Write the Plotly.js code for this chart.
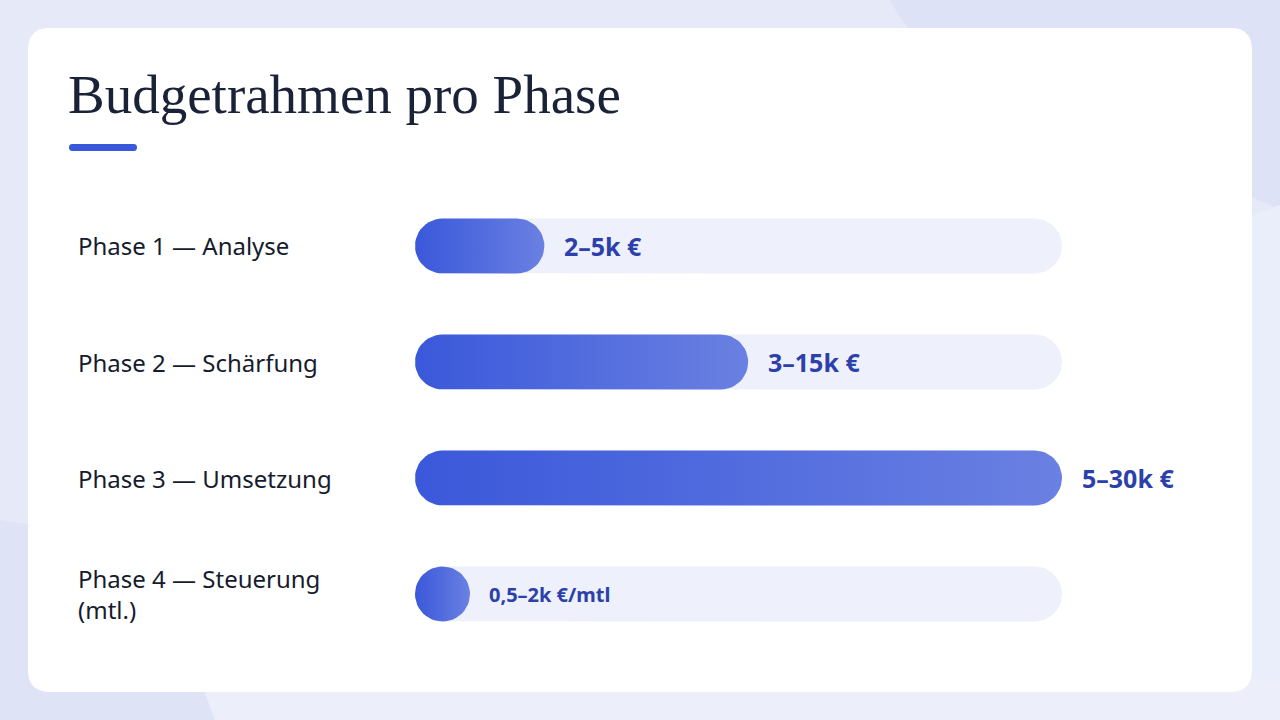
<!DOCTYPE html>
<html>
<head>
<meta charset="utf-8">
<script src="https://cdn.plot.ly/plotly-3.0.1.min.js"></script>
<style>html,body{margin:0;padding:0;background:#e6e9f8;}#chart{width:1280px;height:720px;}</style>
</head>
<body>
<div id="chart"></div>
<script>
// ---- data ----
const phases = ["Phase 1 — Analyse", "Phase 2 — Schärfung", "Phase 3 — Umsetzung", "Phase 4 — Steuerung<br>(mtl.)"];
const barShare = [20, 51.5, 100, 8.5];          // bar length in % of the track
const valueLabels = ["2–5k €", "3–15k €", "5–30k €", "0,5–2k €/mtl"];
const trackMax = 100;

// ---- geometry helpers (plot frame) ----
const W = 1280, H = 720;
const xPx0 = 415, xPx1 = 1062;            // track start/end in px
const rowPx0 = 246, rowStep = 116;        // row centre px
const barHpx = 55;
const xDomain = [xPx0 / W, xPx1 / W];
const yTopPx = rowPx0 - rowStep / 2, yBotPx = rowPx0 + rowStep * 3.5;
const yDomain = [1 - yBotPx / H, 1 - yTopPx / H];
const pxPerX = (xPx1 - xPx0) / trackMax;
const pxPerY = rowStep;
const hY = (barHpx / 2) / pxPerY;
const rX = (barHpx / 2) / pxPerX;

function pill(x0, x1, yc) {
  const xs = [], ys = [];
  const n = 24;
  const r = Math.min(rX, (x1 - x0) / 2);
  const cl = x0 + r, cr = x1 - r;
  for (let i = 0; i <= n; i++) {
    const a = -Math.PI / 2 + Math.PI * i / n;
    xs.push(cr + r * Math.cos(a)); ys.push(yc + hY * Math.sin(a));
  }
  for (let i = 0; i <= n; i++) {
    const a = Math.PI / 2 + Math.PI * i / n;
    xs.push(cl + r * Math.cos(a)); ys.push(yc + hY * Math.sin(a));
  }
  xs.push(xs[0]); ys.push(ys[0]);
  return {xs, ys};
}

const traces = [];
phases.forEach((p, i) => {
  const t = pill(0, trackMax, i);
  traces.push({type: 'scatter', mode: 'lines', x: t.xs, y: t.ys, fill: 'toself',
    fillcolor: '#eef0fb', line: {width: 0, color: 'rgba(0,0,0,0)'}, hoverinfo: 'skip', showlegend: false});
});
phases.forEach((p, i) => {
  const b = pill(0, barShare[i], i);
  traces.push({type: 'scatter', mode: 'lines', x: b.xs, y: b.ys, fill: 'toself',
    fillgradient: {type: 'horizontal', colorscale: [[0, '#3a58da'], [1, '#6a80e2']]},
    fillcolor: '#4a66dc',
    line: {width: 0, color: 'rgba(0,0,0,0)'}, hoverinfo: 'skip', showlegend: false, name: p});
});

const sans = '"Noto Sans", Lato, sans-serif';
const annotations = [];
phases.forEach((p, i) => {
  annotations.push({xref: 'paper', yref: 'y', x: 76 / W, y: i, xanchor: 'left', yanchor: 'middle',
    text: p, showarrow: false, align: 'left',
    font: {family: sans, size: 24, color: '#161b2e'}});
  const small = i === 3;
  annotations.push({xref: 'x', yref: 'y', x: barShare[i], y: i, xanchor: 'left', yanchor: 'middle',
    xshift: small ? 17 : 18, text: '<b>' + valueLabels[i] + '</b>', showarrow: false,
    font: {family: sans, size: small ? 20 : 25, color: '#2b40aa'}});
});
annotations.push({xref: 'paper', yref: 'paper', x: 66 / W, y: 1 - 95 / H, xanchor: 'left', yanchor: 'middle',
  text: 'Budgetrahmen pro Phase', showarrow: false,
  font: {family: '"Liberation Serif", "DejaVu Serif", serif', size: 55, color: '#1a2238'}});

function rr(x0, y0, x1, y1, r) {
  const X = v => (v / W).toFixed(5), Y = v => (1 - v / H).toFixed(5);
  return `M${X(x0 + r)},${Y(y0)} L${X(x1 - r)},${Y(y0)} Q${X(x1)},${Y(y0)} ${X(x1)},${Y(y0 + r)} ` +
    `L${X(x1)},${Y(y1 - r)} Q${X(x1)},${Y(y1)} ${X(x1 - r)},${Y(y1)} L${X(x0 + r)},${Y(y1)} ` +
    `Q${X(x0)},${Y(y1)} ${X(x0)},${Y(y1 - r)} L${X(x0)},${Y(y0 + r)} Q${X(x0)},${Y(y0)} ${X(x0 + r)},${Y(y0)} Z`;
}
const P = (x, y) => `${(x / W).toFixed(5)},${(1 - y / H).toFixed(5)}`;

const shapes = [
  {type: 'path', xref: 'paper', yref: 'paper', layer: 'below', line: {width: 0},
   fillcolor: '#dde2f6', path: `M${P(890, 0)} Q${P(920, 60)} ${P(1000, 80)} L${P(1280, 210)} L${P(1280, 0)} Z`},
  {type: 'path', xref: 'paper', yref: 'paper', layer: 'below', line: {width: 0},
   fillcolor: '#eaedfa', path: `M${P(1240, 220)} L${P(1280, 205)} L${P(1280, 720)} L${P(1240, 720)} Z`},
  {type: 'path', xref: 'paper', yref: 'paper', layer: 'below', line: {width: 0},
   fillcolor: '#dfe3f6', path: `M${P(0, 520)} Q${P(150, 540)} ${P(180, 620)} L${P(215, 720)} L${P(0, 720)} Z`},
  {type: 'path', xref: 'paper', yref: 'paper', layer: 'below', line: {width: 0},
   fillcolor: '#eceefa', path: `M${P(215, 720)} L${P(200, 680)} L${P(1280, 680)} L${P(1280, 720)} Z`},
  {type: 'path', xref: 'paper', yref: 'paper', layer: 'below', line: {width: 0},
   fillcolor: '#ffffff', path: rr(28, 28, 1252, 692, 22)},
  {type: 'path', xref: 'paper', yref: 'paper', layer: 'above', line: {width: 0},
   fillcolor: '#3a58da', path: rr(69, 144, 137, 151, 3.5)}
];

const layout = {
  width: W, height: H,
  margin: {l: 0, r: 0, t: 0, b: 0},
  paper_bgcolor: '#e6e9f8', plot_bgcolor: 'rgba(0,0,0,0)',
  showlegend: false,
  xaxis: {domain: xDomain, range: [0, trackMax], visible: false, fixedrange: true},
  yaxis: {domain: yDomain, range: [3.5, -0.5], visible: false, fixedrange: true},
  annotations, shapes
};
Plotly.newPlot('chart', traces, layout, {displayModeBar: false, staticPlot: true});
</script>
</body>
</html>
